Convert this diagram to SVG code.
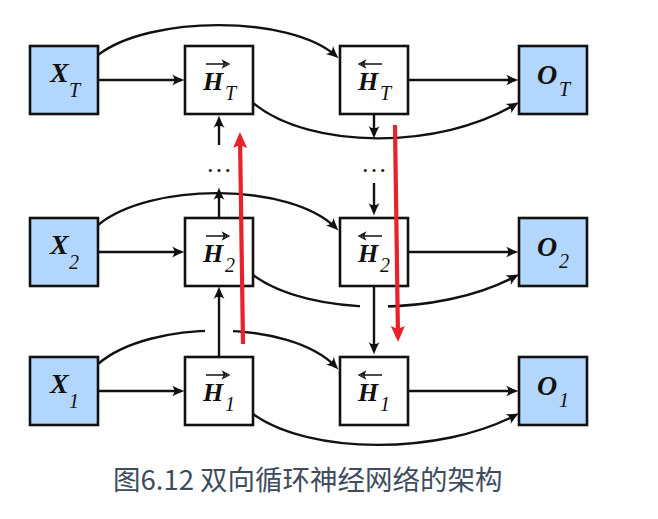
<svg xmlns="http://www.w3.org/2000/svg" width="658" height="519" viewBox="0 0 658 519">
<defs>
<style>
.box{stroke:#111;stroke-width:2.6}
.in{fill:#b3d7fc}
.hid{fill:#fff}
.m{font-family:"Liberation Serif",serif;font-weight:bold;font-style:italic;font-size:26px;fill:#111}
.mx{font-size:28px}
.s{font-family:"Liberation Serif",serif;font-style:italic;font-size:20px;fill:#111}
.c{fill:none;stroke:#111;stroke-width:2.4}
.ar{marker-end:url(#a)}
.r{fill:none;stroke:#e8212b;stroke-width:4.2;marker-end:url(#ra)}
.acc{fill:none;stroke:#111;stroke-width:1.3}
.dots{font-family:"Liberation Serif",serif;font-size:26px;fill:#111;text-anchor:middle}
.cap{font-family:"Noto Sans CJK SC","Noto Sans",sans-serif;font-size:27.5px;fill:#3e4c5e}
</style>
<marker id="a" viewBox="-16 -7 17 14" refX="-3" refY="0" markerWidth="17" markerHeight="14" markerUnits="userSpaceOnUse" orient="auto">
<path d="M0.5,0 C-4,-1.5 -8,-3.5 -12,-5.5 C-9,-2 -9,2 -12,5.5 C-8,3.5 -4,1.5 0.5,0 Z" fill="#111"/>
</marker>
<marker id="ra" viewBox="-19 -9 20 18" refX="-4" refY="0" markerWidth="20" markerHeight="18" markerUnits="userSpaceOnUse" orient="auto">
<path d="M0,0 L-16,-7 L-13,0 L-16,7 Z" fill="#e8212b"/>
</marker>
<path id="fa" d="M0,0 H21 M23,0 l-6,-3.2 l1.6,3.2 l-1.6,3.2 z"/>
</defs>

<g id="connectors">
<path class="c ar" d="M98,80 L181,80"/>
<path class="c ar" d="M98,252 L181,252"/>
<path class="c ar" d="M98,391 L181,391"/>
<path class="c ar" d="M408,80 L515,80"/>
<path class="c ar" d="M408,252 L515,252"/>
<path class="c ar" d="M408,391 L515,391"/>
<path class="c ar" d="M98,55 C150,15 290,15 336,56"/>
<path class="c ar" d="M253,103 C310,150 440,150 516,104"/>
<path class="c ar" d="M98,225 C150,182 290,182 336,228"/>
<path class="c ar" d="M253,275 C310,317 440,317 516,276"/>
<path class="c ar" d="M98,364 C150,319 290,319 336,367"/>
<path class="c ar" d="M253,414 C310,455 440,455 516,415"/>
<rect x="205" y="321" width="28" height="18" fill="#fff"/>
<rect x="360" y="297" width="28" height="18" fill="#fff"/>
<path class="c ar" d="M219,145 L219,119"/>
<path class="c ar" d="M219,218 L219,191"/>
<path class="c ar" d="M219,357 L219,290"/>
<path class="c ar" d="M374,114 L374,135"/>
<path class="c ar" d="M374,183 L374,212"/>
<path class="c ar" d="M374,286 L374,351"/>
<text class="dots" x="219" y="172">…</text>
<text class="dots" x="374" y="172">…</text>
</g>

<g id="xT"><rect class="box in" x="30" y="46" width="68" height="68"/><text class="m mx" x="50" y="82">X</text><text class="s" x="69" y="97">T</text></g>
<g id="x2"><rect class="box in" x="30" y="218" width="68" height="68"/><text class="m mx" x="50" y="254">X</text><text class="s" x="69" y="269">2</text></g>
<g id="x1"><rect class="box in" x="30" y="357" width="68" height="68"/><text class="m mx" x="50" y="393">X</text><text class="s" x="69" y="408">1</text></g>

<g id="hfT"><rect class="box hid" x="185" y="46" width="68" height="68"/><use href="#fa" x="206" y="64" class="acc" fill="#111"/><text class="m" x="203" y="90">H</text><text class="s" x="225" y="100">T</text></g>
<g id="hf2"><rect class="box hid" x="185" y="218" width="68" height="68"/><use href="#fa" x="206" y="236" class="acc" fill="#111"/><text class="m" x="203" y="262">H</text><text class="s" x="225" y="272">2</text></g>
<g id="hf1"><rect class="box hid" x="185" y="357" width="68" height="68"/><use href="#fa" x="206" y="375" class="acc" fill="#111"/><text class="m" x="203" y="401">H</text><text class="s" x="225" y="411">1</text></g>

<g id="hbT"><rect class="box hid" x="340" y="46" width="68" height="68"/><use href="#fa" transform="translate(382,64) scale(-1,1)" class="acc" fill="#111"/><text class="m" x="358" y="90">H</text><text class="s" x="380" y="100">T</text></g>
<g id="hb2"><rect class="box hid" x="340" y="218" width="68" height="68"/><use href="#fa" transform="translate(382,236) scale(-1,1)" class="acc" fill="#111"/><text class="m" x="358" y="262">H</text><text class="s" x="380" y="272">2</text></g>
<g id="hb1"><rect class="box hid" x="340" y="357" width="68" height="68"/><use href="#fa" transform="translate(382,375) scale(-1,1)" class="acc" fill="#111"/><text class="m" x="358" y="401">H</text><text class="s" x="380" y="411">1</text></g>

<g id="oT"><rect class="box in" x="519" y="46" width="68" height="68"/><text class="m mx" x="537" y="84">O</text><text class="s" x="559" y="96">T</text></g>
<g id="o2"><rect class="box in" x="519" y="218" width="68" height="68"/><text class="m mx" x="537" y="256">O</text><text class="s" x="559" y="268">2</text></g>
<g id="o1"><rect class="box in" x="519" y="357" width="68" height="68"/><text class="m mx" x="537" y="395">O</text><text class="s" x="559" y="407">1</text></g>

<g id="highlight">
<path class="r" d="M243,344 L240,136"/>
<path class="r" d="M395,125 L398,338"/>
</g>

<text class="cap" x="113" y="490">图6.12 双向循环神经网络的架构</text>
</svg>
